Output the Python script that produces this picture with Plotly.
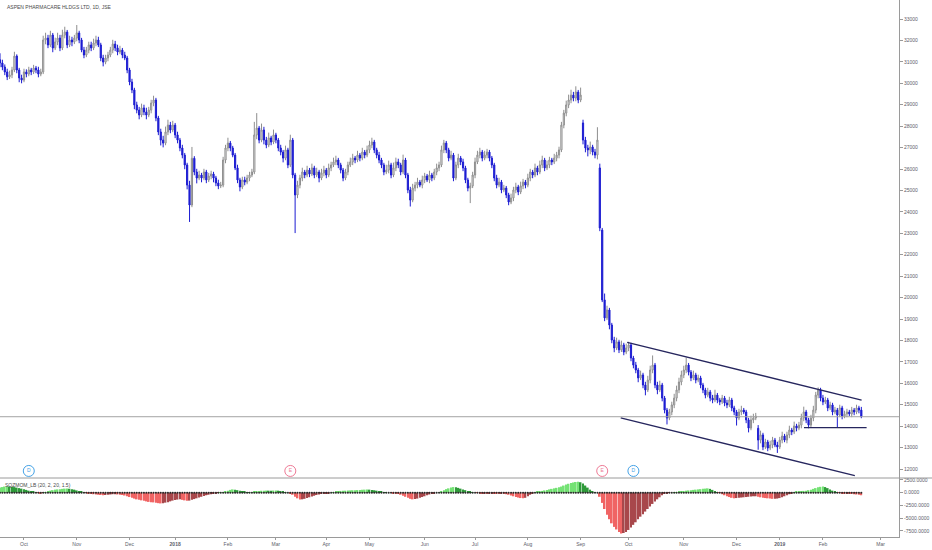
import plotly.graph_objects as go

TITLE = "ASPEN PHARMACARE HLDGS LTD, 1D, JSE"
INDICATOR = "SQZMOM_LB (20, 2, 20, 1.5)"

OPEN = [
 31100,30950,30760,30530,30300,30390,30620,31270,30620,30250,
 30150,30530,30430,30620,30530,30710,30620,30430,30530,32020,
 32110,31790,32250,31650,31930,32110,31650,32250,32390,31790,
 32020,31930,32110,32350,32020,31550,31320,31550,31790,31650,
 31880,32020,31790,31180,30990,31180,31320,31550,31830,31650,
 31460,31550,31320,31180,30620,30060,29690,28990,28750,28520,
 28850,28660,28520,28750,29080,29220,28380,27730,27350,27210,
 27730,28050,27820,28050,27590,27350,26980,26650,26190,25250,
 24320,26500,25860,25580,25720,25580,25860,25490,25670,25770,
 25580,25350,25210,25250,26420,26980,27210,26980,26650,26050,
 25490,25160,25490,25390,25580,25720,25860,27590,27910,27350,
 27820,27350,27120,27450,27260,27590,27350,26980,26790,26510,
 26890,26190,27350,25720,24790,25250,25580,25860,25720,25950,
 25770,26050,25720,25860,25580,25810,25950,25720,26050,26190,
 26330,26420,26190,25950,25580,25860,26190,26330,26510,26420,
 26650,26510,26790,26650,26890,27120,27260,26890,26650,26420,
 26190,25860,25950,26190,25720,26050,26330,26190,25860,26420,
 25720,25020,24550,25110,25250,25390,25250,25490,25670,25490,
 25720,25580,25860,26050,26190,26890,27210,26890,26510,26650,
 25580,26190,26510,26330,26050,25490,25110,25210,25720,26330,
 26650,26790,26510,26650,26790,26510,26190,25580,25250,25390,
 25020,25110,24790,24460,24650,25020,25160,24930,25210,25390,
 25250,25580,25860,25720,26050,25860,26190,26420,26050,26190,
 26420,26330,26510,26650,26890,28050,28610,28990,29220,29450,
 29310,29590,29220,28150,27350,26980,26890,27030,26790,26650,
 26050,23150,19890,19050,19420,18720,18020,17650,17930,17560,
 17790,17460,17650,17790,17180,16850,16620,16250,16390,15920,
 15690,16150,16620,16850,15920,15690,15920,15310,14750,14380,
 14660,14990,15310,15690,16060,16390,16620,16850,16520,16250,
 16390,16150,16250,15920,15690,15450,15590,15310,15220,15450,
 15220,15130,15310,15080,14990,15220,14850,14660,14380,14660,
 14750,14660,14290,13910,14290,14380,13900,13350,13590,13030,
 13260,12980,13120,13350,13120,13030,13350,13540,13350,13590,
 13820,13730,14010,13910,14050,14380,14660,14290,14050,14380,
 14750,15450,15690,15310,15130,15220,14850,14990,14660,14750,
 14520,14850,14470,14570,14660,14570,14750,14660,14850,14750,
]

HIGH = [
 31400,31100,30880,30680,30590,30770,31470,31350,30720,30400,
 30680,30650,30770,30720,30860,30810,30770,30680,32220,32360,
 32260,32450,32350,32130,32360,32260,32500,32640,32490,32220,
 32170,32260,32720,32450,32120,31700,31700,31940,31940,32080,
 32220,32170,31890,31330,31330,31470,31700,32030,31980,31800,
 31750,31650,31470,31280,30720,30210,29790,29140,28900,29050,
 29000,28860,28900,29230,29420,29320,28480,27880,27550,27980,
 28300,28200,28250,28150,27740,27450,27130,26750,26290,25450,
 27030,26600,26010,25920,25820,26010,25960,25820,25920,25870,
 25680,25500,25400,26570,27130,27460,27310,27080,26750,26200,
 25590,25640,25640,25730,25870,26010,28200,28610,28010,28120,
 27970,27500,27700,27550,27840,27690,27450,27130,26890,27090,
 26990,27600,27450,25820,25450,25730,26060,25960,26150,26050,
 26250,26150,26060,25960,26010,26150,26050,26250,26340,26530,
 26620,26520,26290,26050,26010,26340,26530,26710,26610,26850,
 26750,26990,26890,27090,27320,27460,27360,26990,26800,26520,
 26290,26200,26390,26290,26300,26530,26480,26290,26670,26520,
 25820,25170,25310,25400,25590,25490,25690,25820,25770,25920,
 25820,26010,26250,26340,27090,27360,27310,26990,26850,26750,
 26340,26710,26610,26480,26150,25590,25360,25870,26530,26850,
 26990,26890,26850,26940,26890,26610,26290,25730,25590,25490,
 25260,25210,24890,24850,25170,25360,25260,25410,25540,25490,
 25780,26010,25960,26250,26150,26390,26620,26520,26390,26570,
 26520,26710,26800,27040,28200,28760,29190,29470,29700,29600,
 29860,29690,29800,28300,27500,27130,27280,27130,26940,27950,
 26250,23250,20190,19620,19520,18820,18170,18130,18030,17990,
 17890,17850,17940,17890,17280,17000,16720,16590,16490,16070,
 16350,16820,17300,16950,16070,16120,16020,15410,14850,14810,
 15140,15510,15890,16260,16590,16820,17200,16950,16620,16590,
 16490,16400,16350,16020,15790,15790,15690,15460,15700,15550,
 15320,15460,15410,15230,15370,15320,14950,14760,14810,14950,
 14850,14760,14390,14490,14580,14620,14050,13790,13690,13410,
 13360,13320,13500,13450,13270,13500,13740,13640,13740,14020,
 13920,14210,14110,14200,14580,14910,14760,14390,14530,14950,
 15600,15810,15790,15460,15370,15320,15140,15090,14900,14850,
 15000,14950,14720,14810,14760,14900,14850,15000,14950,14900,
]

LOW = [
 30750,30610,30380,30150,30200,30240,30520,30470,30050,30000,
 30050,30280,30330,30380,30430,30470,30280,30330,30430,31820,
 31640,31690,31450,31550,31780,31500,31550,32100,31640,31690,
 31730,31830,31960,31870,31450,31170,31220,31400,31500,31550,
 31730,31690,31030,30790,30890,31030,31220,31400,31500,31310,
 31360,31170,31080,30470,29910,29540,28790,28600,28320,28420,
 28510,28320,28420,28600,28930,28230,27580,27100,27010,27110,
 27580,27670,27720,27440,27200,26830,26500,25990,25050,23530,
 24220,25710,25330,25480,25380,25480,25340,25390,25520,25380,
 25200,25060,25110,25150,26270,26830,26830,26550,25950,25340,
 24960,25060,25240,25290,25430,25620,25760,27390,27200,27250,
 27150,26970,27020,27110,27160,27200,26830,26640,26310,26410,
 26040,26090,25570,23010,24640,25100,25430,25570,25620,25620,
 25670,25570,25620,25380,25480,25660,25570,25620,25900,26090,
 26180,26040,25800,25430,25480,25710,26090,26180,26270,26320,
 26360,26410,26500,26550,26740,26970,26740,26500,26270,26040,
 25710,25760,25800,25570,25620,25900,26040,25710,25760,25570,
 24870,24250,24450,24960,25100,25150,25100,25340,25390,25340,
 25430,25480,25710,25900,26090,26740,26740,26360,26410,25430,
 25480,26040,26180,25900,25340,24960,24410,25110,25570,26230,
 26500,26360,26410,26500,26360,26040,25430,25100,25150,24870,
 24920,24640,24310,24360,24500,24870,24780,24830,25060,25100,
 25150,25430,25570,25620,25710,25760,26040,25900,25950,26040,
 26180,26230,26360,26500,26790,27900,28460,28840,29070,29160,
 29160,29070,29120,27150,26780,26590,26690,26640,26500,26450,
 23100,19790,18900,18950,18520,17870,17450,17550,17410,17460,
 17310,17360,17500,17030,16700,16470,16050,16150,15770,15440,
 15590,16000,16470,15770,15490,15590,15160,14600,14080,14280,
 14510,14840,15160,15540,15910,16240,16470,16370,16100,16150,
 16000,16050,15770,15540,15300,15350,15160,15070,15120,15070,
 14980,15030,14930,14840,14890,14700,14510,14030,14280,14510,
 14560,14140,13710,13810,14140,14280,12900,13200,12880,12930,
 12830,12880,12970,13020,12750,12930,13200,13250,13200,13440,
 13580,13630,13760,13810,13900,14230,14140,13900,13950,14230,
 14600,15300,15160,14980,15030,14700,14750,14510,14560,13920,
 14420,14320,14370,14420,14470,14420,14510,14560,14600,14370,
]

CLOSE = [
 30950,30760,30530,30300,30390,30620,31270,30620,30250,30150,
 30530,30430,30620,30530,30710,30620,30430,30530,32020,32110,
 31790,32250,31650,31930,32110,31650,32250,32390,31790,32020,
 31930,32110,32350,32020,31550,31320,31550,31790,31650,31880,
 32020,31790,31180,30990,31180,31320,31550,31830,31650,31460,
 31550,31320,31180,30620,30060,29690,28990,28750,28520,28850,
 28660,28520,28750,29080,29220,28380,27730,27350,27210,27730,
 28050,27820,28050,27590,27350,26980,26650,26190,25250,24320,
 26500,25860,25580,25720,25580,25860,25490,25670,25770,25580,
 25350,25210,25250,26420,26980,27210,26980,26650,26050,25490,
 25160,25490,25390,25580,25720,25860,27590,27910,27350,27820,
 27350,27120,27450,27260,27590,27350,26980,26790,26510,26890,
 26190,27350,25720,24790,25250,25580,25860,25720,25950,25770,
 26050,25720,25860,25580,25810,25950,25720,26050,26190,26330,
 26420,26190,25950,25580,25860,26190,26330,26510,26420,26650,
 26510,26790,26650,26890,27120,27260,26890,26650,26420,26190,
 25860,25950,26190,25720,26050,26330,26190,25860,26420,25720,
 25020,24550,25110,25250,25390,25250,25490,25670,25490,25720,
 25580,25860,26050,26190,26890,27210,26890,26510,26650,25580,
 26190,26510,26330,26050,25490,25110,25210,25720,26330,26650,
 26790,26510,26650,26790,26510,26190,25580,25250,25390,25020,
 25110,24790,24460,24650,25020,25160,24930,25210,25390,25250,
 25580,25860,25720,26050,25860,26190,26420,26050,26190,26420,
 26330,26510,26650,26890,28050,28610,28990,29220,29450,29310,
 29590,29220,29450,27350,26980,26890,27030,26790,26650,27350,
 23250,19890,19050,19420,18720,18020,17650,17930,17560,17790,
 17460,17650,17790,17180,16850,16620,16250,16390,15920,15690,
 16150,16620,16850,15920,15690,15920,15310,14750,14380,14660,
 14990,15310,15690,16060,16390,16620,16850,16520,16250,16390,
 16150,16250,15920,15690,15450,15590,15310,15220,15450,15220,
 15130,15310,15080,14990,15220,14850,14660,14380,14660,14750,
 14660,14290,13910,14290,14380,14470,13350,13590,13030,13260,
 12980,13120,13350,13120,13030,13350,13540,13350,13590,13820,
 13730,14010,13910,14050,14380,14660,14290,14050,14380,14750,
 15450,15690,15310,15130,15220,14850,14990,14660,14750,14520,
 14850,14470,14570,14660,14570,14750,14660,14850,14750,14440,
]

MOMENTUM = [
 1000,1100,1200,1250,1200,1150,1100,1000,900,800,
 700,550,400,300,150,50,-50,-100,-50,100,
 250,400,500,600,650,700,750,800,820,780,
 700,600,450,300,150,50,-50,-150,-250,-300,
 -350,-400,-450,-500,-450,-400,-350,-300,-300,-350,
 -400,-450,-550,-700,-850,-1000,-1150,-1300,-1400,-1500,
 -1600,-1700,-1800,-1850,-1900,-1950,-2050,-2100,-2050,-1950,
 -1850,-1700,-1550,-1450,-1350,-1300,-1400,-1500,-1600,-1550,
 -1400,-1250,-1100,-950,-800,-650,-500,-400,-300,-200,
 -120,-50,30,100,250,400,550,650,600,500,
 400,300,200,100,50,80,200,300,350,380,
 400,420,400,380,420,450,400,300,200,100,
 0,-100,-400,-800,-1100,-1350,-1300,-1200,-1050,-900,
 -750,-600,-450,-350,-250,-200,-150,-80,0,100,
 200,300,350,380,400,420,450,480,500,520,
 550,580,600,620,600,550,480,400,300,200,
 100,50,0,-50,-100,-150,-250,-400,-600,-800,
 -1000,-1200,-1300,-1250,-1150,-1000,-850,-700,-500,-350,
 -200,-80,0,100,300,500,700,850,1000,1100,
 1050,950,800,650,500,350,200,100,0,-50,
 -100,-150,-150,-200,-200,-180,-200,-220,-250,-200,
 -250,-300,-400,-550,-700,-850,-950,-1050,-1100,-1000,
 -700,-400,-150,50,150,250,350,450,550,650,
 750,850,950,1050,1200,1400,1600,1750,1900,2000,
 2100,2150,2050,1800,1400,1000,600,300,100,0,
 -800,-2000,-3200,-4300,-5200,-6000,-6700,-7200,-7700,-8000,
 -7900,-7700,-7300,-6800,-6300,-5800,-5200,-4700,-4200,-3700,
 -3200,-2700,-2200,-1700,-1300,-900,-500,-200,-100,-50,
 0,50,100,150,200,300,400,450,500,550,
 600,650,700,750,800,850,750,550,300,100,
 -50,-300,-500,-700,-850,-1000,-1100,-1050,-1000,-950,
 -900,-850,-800,-750,-700,-700,-800,-900,-1000,-1050,
 -1100,-1150,-1200,-1200,-1150,-1050,-900,-700,-500,-300,
 -100,50,150,250,300,350,400,500,600,750,
 900,1050,1150,1200,1100,900,650,400,200,50,
 -50,-100,-150,-150,-200,-250,-300,-350,-400,-500,
]

# month label positions (bar index) and texts
TICK_POS = [10, 32, 54, 73, 95, 115, 136, 154, 177, 198, 220, 242, 262, 285, 307, 325, 343, 367]
TICK_TEXT = ["Oct", "Nov", "Dec", "<b>2018</b>", "Feb", "Mar", "Apr", "May", "Jun", "Jul",
             "Aug", "Sep", "Oct", "Nov", "Dec", "<b>2019</b>", "Feb", "Mar"]

PRICE_TICKS = list(range(12000, 34000, 1000))
MOM_TICKS = [2500, 0, -2500, -5000, -7500]
MOM_TICK_TEXT = ["2500.0000", "0.0000", "-2500.0000", "-5000.0000", "-7500.0000"]

# drawn trend lines: (bar index, price) pairs
CHANNEL_UPPER = [(261.4, 17910), (359.1, 15220)]
CHANNEL_LOWER = [(258.7, 14390), (356.3, 11690)]
SUPPORT = [(335.1, 13930), (361.2, 13930)]

# dividend / earnings events (bar index, letter)
EVENTS = [(12, "D"), (121, "E"), (251, "E"), (264, "D")]
EVENT_Y = 11910

n = len(CLOSE)
assert len(OPEN) == n and len(HIGH) == n and len(LOW) == n and len(MOMENTUM) == n
idx = list(range(n))

# Squeeze momentum colours (lime/green/red/maroon logic)
mom_colors = []
for i, v in enumerate(MOMENTUM):
    prev = MOMENTUM[i - 1] if i > 0 else 0
    if v > 0:
        mom_colors.append("#74e274" if v > prev else "#2f9a3a")
    else:
        mom_colors.append("#f06464" if v < prev else "#a8474b")

GRID = "#9a9a9a"
TXT = "#5d606b"
FONT = "Liberation Sans"

fig = go.Figure()
fig.add_trace(go.Candlestick(
    x=idx, open=OPEN, high=HIGH, low=LOW, close=CLOSE,
    increasing=dict(line=dict(color="#8e8e8e", width=1), fillcolor="#ffffff"),
    decreasing=dict(line=dict(color="#1c1cd2", width=1), fillcolor="#1c1cd2"),
    whiskerwidth=0, showlegend=False, hoverinfo="skip",
    xaxis="x", yaxis="y",
))

fig.add_trace(go.Bar(
    x=idx, y=MOMENTUM, marker=dict(color=mom_colors, line=dict(width=0)),
    xaxis="x", yaxis="y2", showlegend=False, hoverinfo="skip",
))
fig.add_trace(go.Scatter(
    x=idx, y=[0] * n, mode="markers", marker=dict(size=2, color="#2a2a2a"),
    xaxis="x", yaxis="y2", showlegend=False, hoverinfo="skip",
))

# trend lines
for seg in (CHANNEL_UPPER, CHANNEL_LOWER, SUPPORT):
    fig.add_trace(go.Scatter(
        x=[p[0] for p in seg], y=[p[1] for p in seg], mode="lines",
        line=dict(color="#26265e", width=1.3), xaxis="x", yaxis="y",
        showlegend=False, hoverinfo="skip",
    ))

# event markers
ev_colors = {"D": "#45a2e6", "E": "#ee7b96"}
fig.add_trace(go.Scatter(
    x=[e[0] for e in EVENTS], y=[EVENT_Y] * len(EVENTS), mode="markers+text",
    text=[e[1] for e in EVENTS], textposition="middle center",
    textfont=dict(size=5, color=[ev_colors[e[1]] for e in EVENTS], family=FONT),
    marker=dict(size=11, color="white", line=dict(width=1, color=[ev_colors[e[1]] for e in EVENTS])),
    xaxis="x", yaxis="y", showlegend=False, hoverinfo="skip",
))

SPLIT = 59 / 537.0

fig.update_layout(
    width=932, height=550,
    margin=dict(l=0, r=33, t=0, b=13),
    paper_bgcolor="white", plot_bgcolor="white",
    showlegend=False, bargap=0.3,
    font=dict(family=FONT, size=5, color=TXT),
    xaxis=dict(
        domain=[0, 1], anchor="y2", range=[0, 374.7],
        tickvals=TICK_POS, ticktext=TICK_TEXT, tickfont=dict(size=5, color=TXT),
        showline=True, linecolor=GRID, linewidth=1, ticks="outside", ticklen=2,
        tickcolor=GRID, showgrid=False, zeroline=False,
        rangeslider=dict(visible=False), fixedrange=True,
    ),
    yaxis=dict(
        domain=[SPLIT, 1], anchor="x", side="right", range=[11581, 33887],
        tickvals=PRICE_TICKS, tickformat="d", tickfont=dict(size=5, color=TXT),
        showline=True, linecolor=GRID, linewidth=1, ticks="outside", ticklen=3,
        tickcolor=GRID, showgrid=False, zeroline=False, fixedrange=True,
    ),
    yaxis2=dict(
        domain=[0, SPLIT], anchor="x", side="right", range=[-8680, 2880],
        tickvals=MOM_TICKS, ticktext=MOM_TICK_TEXT, tickfont=dict(size=5, color=TXT),
        showline=True, linecolor=GRID, linewidth=1, ticks="outside", ticklen=3,
        tickcolor=GRID, showgrid=False, zeroline=False, fixedrange=True,
    ),
    shapes=[
        dict(type="line", xref="paper", yref="paper", x0=0, x1=932 / 899.0, y0=SPLIT, y1=SPLIT,
             line=dict(color=GRID, width=1)),
        dict(type="line", xref="paper", yref="y", x0=0, x1=1, y0=CLOSE[-1], y1=CLOSE[-1],
             line=dict(color="#a3a3a3", width=1)),
    ],
    annotations=[
        dict(text=TITLE, xref="paper", yref="paper", x=5 / 899.0, y=1 - 7 / 537.0,
             xanchor="left", yanchor="middle", showarrow=False,
             font=dict(size=5, color="#4a4a4a", family=FONT)),
        dict(text=INDICATOR, xref="paper", yref="paper", x=3 / 899.0, y=1 - 485 / 537.0,
             xanchor="left", yanchor="middle", showarrow=False,
             font=dict(size=5, color="#4a4a4a", family=FONT)),
    ],
)

fig.write_html(
    "out.html",
    config={"displayModeBar": False},
    post_script="document.body.style.margin='0px';document.body.style.overflow='hidden';",
)
